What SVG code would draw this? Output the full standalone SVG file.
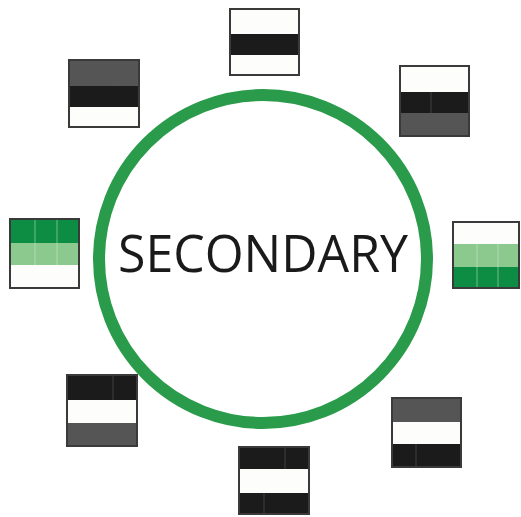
<svg xmlns="http://www.w3.org/2000/svg" width="521" height="517" viewBox="0 0 521 517">
<style>
.frame{fill:none;stroke:#3a3a3a;stroke-width:2}
.w{fill:#fdfdfb}
.k{fill:#1b1b1b}
.g{fill:#555555}
.lg{fill:#8cc98f}
.dg{fill:#0d8c43}
.sep{stroke:#5a5a5a;stroke-width:1;opacity:0.6}
.sepw{stroke:#d8eed8;stroke-width:1;opacity:0.5}
.label{font-family:"Open Sans","Liberation Sans",sans-serif;font-size:52px;fill:#1a1a1a}
</style>
<rect width="521" height="517" fill="#ffffff"/>
<g id="center">
<circle cx="263" cy="259" r="164" fill="#ffffff" stroke="#2a9b4a" stroke-width="12"/>
<text class="label" x="263" y="272" text-anchor="middle" textLength="290" lengthAdjust="spacingAndGlyphs">SECONDARY</text>
</g>
<g id="box-top">
<rect class="w" x="230" y="9" width="69" height="66"/>
<rect class="k" x="230" y="34" width="69" height="21"/>
<rect class="frame" x="230" y="9" width="69" height="66"/>
</g>
<g id="box-upper-right">
<rect class="w" x="400" y="66" width="69" height="70"/>
<rect class="k" x="400" y="92" width="69" height="21"/>
<rect class="g" x="400" y="113" width="69" height="23"/>
<line class="sep" x1="431" y1="92" x2="431" y2="113"/>
<rect class="frame" x="400" y="66" width="69" height="70"/>
</g>
<g id="box-right">
<rect class="w" x="453" y="222" width="66" height="66"/>
<rect class="lg" x="453" y="244" width="66" height="23"/>
<rect class="dg" x="453" y="267" width="66" height="21"/>
<line class="sepw" x1="477" y1="244" x2="477" y2="288"/>
<line class="sepw" x1="498" y1="244" x2="498" y2="288"/>
<rect class="frame" x="453" y="222" width="66" height="66"/>
</g>
<g id="box-lower-right">
<rect class="g" x="392" y="398" width="69" height="24"/>
<rect class="w" x="392" y="422" width="69" height="22"/>
<rect class="k" x="392" y="444" width="69" height="23"/>
<line class="sep" x1="416" y1="444" x2="416" y2="467"/>
<rect class="frame" x="392" y="398" width="69" height="69"/>
</g>
<g id="box-bottom">
<rect class="k" x="239" y="447" width="70" height="22"/>
<rect class="w" x="239" y="469" width="70" height="24"/>
<rect class="k" x="239" y="493" width="70" height="21"/>
<line class="sep" x1="264" y1="493" x2="264" y2="514"/>
<line class="sep" x1="285" y1="447" x2="285" y2="469"/>
<rect class="frame" x="239" y="447" width="70" height="67"/>
</g>
<g id="box-lower-left">
<rect class="k" x="67" y="375" width="70" height="25"/>
<rect class="w" x="67" y="400" width="70" height="23"/>
<rect class="g" x="67" y="423" width="70" height="23"/>
<line class="sep" x1="113" y1="375" x2="113" y2="400"/>
<rect class="frame" x="67" y="375" width="70" height="71"/>
</g>
<g id="box-left">
<rect class="dg" x="10" y="219" width="69" height="24"/>
<rect class="lg" x="10" y="243" width="69" height="22"/>
<rect class="w" x="10" y="265" width="69" height="23"/>
<line class="sepw" x1="35" y1="219" x2="35" y2="265"/>
<line class="sepw" x1="57" y1="219" x2="57" y2="265"/>
<rect class="frame" x="10" y="219" width="69" height="69"/>
</g>
<g id="box-upper-left">
<rect class="g" x="69" y="60" width="70" height="26"/>
<rect class="k" x="69" y="86" width="70" height="21"/>
<rect class="w" x="69" y="107" width="70" height="20"/>
<line class="sep" x1="115" y1="60" x2="115" y2="86"/>
<rect class="frame" x="69" y="60" width="70" height="67"/>
</g>
</svg>
